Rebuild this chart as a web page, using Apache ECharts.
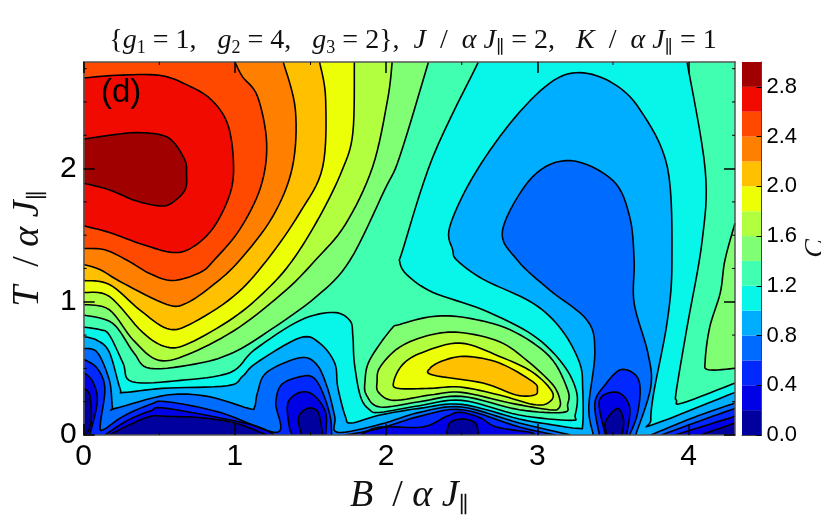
<!DOCTYPE html>
<html>
<head>
<meta charset="utf-8">
<style>html,body{margin:0;padding:0;background:#fff}#chart{width:821px;height:523px}</style>
<script src="https://cdn.jsdelivr.net/npm/echarts@6/dist/echarts.min.js"></script>
</head>
<body>
<div id="chart"></div>
<script>
const B_MAX = 4.307, T_MAX = 2.80;
const bandEdges = [0,0.2,0.4,0.6,0.8,1.0,1.2,1.4,1.6,1.8,2.0,2.2,2.4,2.6,2.8,3.0];
const bandColors = ['#00009f','#0000e6','#0028ff','#006cff','#00aeff','#08f6ea','#40ffb0','#80ff74','#b2ff40','#ecff06','#ffc000','#ff8000','#ff4800','#f00a00','#a00000'];
const xTicks = [0,1,2,3,4];
const yTicks = [0,1,2];
const cTicks = [0,0.4,0.8,1.2,1.6,2.0,2.4,2.8];
const xMinor = [0.5,1.5,2.5,3.5];
const yMinor = [0.25,0.5,0.75,1.25,1.5,1.75,2.25,2.5,2.75];

// contour lines: [B, T]
const c28 = [[0,2.22],[.11,2.24],[.34,2.27],[.52,2.25],[.60,2.19],[.67,2.06],[.68,1.97],[.67,1.84],[.58,1.74],[.50,1.72],[.34,1.76],[.17,1.84],[0,1.89]];
const c26 = [[0,2.68],[.22,2.70],[.50,2.70],[.68,2.63],[.84,2.52],[.95,2.34],[.99,2.06],[.97,1.82],[.86,1.56],[.72,1.41],[.59,1.37],[.39,1.43],[.17,1.52],[0,1.57]];
const c24 = [[0,1.40],[.14,1.39],[.29,1.31],[.44,1.21],[.59,1.16],[.77,1.22],[.86,1.31],[1.03,1.54],[1.17,1.86],[1.21,2.19],[1.15,2.54],[1.05,2.69],[1.0,2.80]];
const c22 = [[0,1.28],[.11,1.24],[.26,1.14],[.55,.98],[.68,.99],[.86,1.13],[1.03,1.31],[1.25,1.64],[1.38,2.01],[1.40,2.44],[1.32,2.80]];
const c20 = [[0,1.16],[.17,1.13],[.37,.94],[.55,.80],[.70,.83],[.99,1.04],[1.21,1.31],[1.43,1.67],[1.58,2.01],[1.60,2.52],[1.56,2.80]];
const c18 = [[0,1.07],[.17,1.04],[.39,.77],[.55,.66],[.70,.69],[.99,.88],[1.21,1.09],[1.38,1.31],[1.56,1.64],[1.71,1.99],[1.78,2.27],[1.79,2.80]];
const c16 = [[0,.98],[.17,.94],[.33,.71],[.50,.56],[.72,.62],[1.03,.81],[1.34,1.09],[1.53,1.31],[1.73,1.58],[1.91,2.01],[2.01,2.52],[2.04,2.80]];
const c14 = [[0,.90],[.19,.84],[.33,.62],[.44,.50],[.77,.54],[.99,.62],[1.21,.77],[1.54,1.04],[1.76,1.31],[1.99,1.84],[2.09,2.09],[2.28,2.80]];
const c12 = [[0,.81],[.11,.79],[.17,.75],[.26,.54],[.32,.40],[.64,.41],[.97,.47],[1.13,.64],[1.43,.86],[1.65,.92],[1.76,.86],[1.78,.74],[1.79,.54],[1.83,.29],[1.89,.19],[1.96,.17],[2.22,.22],[2.50,.26],[2.88,.15],[3.22,.11],[3.25,.15],[3.26,.32],[3.17,.53],[2.97,.75],[2.64,.94],[2.31,1.07],[2.14,1.20],[2.09,1.30],[2.11,1.39],[2.31,2.09],[2.61,2.80]];
const c10 = [[0,.74],[.09,.71],[.17,.62],[.24,.35],[.27,.32],[.52,.35],[.95,.37],[1.05,.44],[1.14,.54],[1.43,.73],[1.56,.69],[1.66,.54],[1.68,.36],[1.73,.14],[1.77,.09],[1.96,.15],[2.22,.20],[2.50,.23],[2.88,.12],[3.08,.08],[3.27,.05],[3.30,.08],[3.30,.34],[3.28,.54],[3.16,.79],[2.97,.99],[2.64,1.17],[2.47,1.31],[2.44,1.39],[2.42,1.56],[2.57,1.93],[2.82,2.34],[3.08,2.64],[3.28,2.72],[3.50,2.64],[3.68,2.44],[3.86,2.01],[3.89,1.31],[3.86,.86],[3.77,.32],[3.75,.11],[3.77,.08],[4.307,.32]];
const c12Right = [[3.99,2.80],[4.11,1.99],[4.09,1.46],[3.99,.81],[3.92,.34],[3.92,.26],[3.96,.24],[4.307,.39]];
const c14Right = [[4.307,1.59],[4.24,1.31],[4.21,1.07],[4.14,.81],[4.11,.56],[4.13,.49],[4.307,.50]];
const c14Bump = [[1.86,.40],[1.89,.56],[2.03,.79],[2.09,.83],[2.31,.89],[2.53,.88],[2.82,.79],[3.08,.59],[3.20,.34],[3.20,.23],[3.17,.17],[2.88,.19],[2.50,.29],[2.22,.25],[1.96,.21],[1.87,.30]];
const c16Bump = [[1.94,.40],[1.96,.51],[2.09,.66],[2.29,.75],[2.49,.77],[2.75,.70],[2.93,.56],[3.10,.38],[3.15,.26],[3.14,.20],[3.08,.19],[2.82,.24],[2.50,.32],[2.29,.30],[2.05,.26],[1.95,.32]];
const c18Bump = [[2.05,.40],[2.11,.53],[2.24,.62],[2.49,.69],[2.75,.59],[2.97,.47],[3.10,.32],[3.07,.24],[2.97,.23],[2.75,.30],[2.49,.36],[2.29,.35],[2.08,.35]];
const c20Bump = [[2.29,.50],[2.38,.56],[2.53,.59],[2.75,.54],[2.97,.40],[3.00,.34],[2.98,.30],[2.86,.30],[2.64,.39],[2.31,.45]];
const c08 = [[0,.65],[.09,.62],[.17,.41],[.19,.21],[.21,.20],[.55,.30],[.82,.29],[1.09,.20],[1.13,.21],[1.15,.32],[1.21,.47],[1.43,.58],[1.54,.53],[1.61,.36],[1.66,.14],[1.68,.02],[1.96,.08],[2.22,.17],[2.50,.21],[2.88,.09],[3.22,0]];
const c08Blob = [[3.37,0],[3.34,.21],[3.38,.62],[3.33,.86],[3.08,1.09],[2.87,1.31],[2.77,1.54],[2.97,1.94],[3.22,2.06],[3.50,1.91],[3.61,1.64],[3.64,1.31],[3.64,.99],[3.73,.62],[3.75,.36],[3.65,0]];
const c08Right = [[3.75,0],[4.03,.13],[4.307,.24]];
const c06 = [[0,.57],[.09,.50],[.14,.35],[.11,.08],[.13,.04],[.26,.14],[.44,.23],[.55,.25],[.90,.17],[1.28,.02],[1.27,.24],[1.31,.38],[1.44,.44],[1.52,.43],[1.58,.32],[1.63,.14],[1.64,0]];
const c06Bump = [[1.73,0],[1.96,.05],[2.22,.14],[2.50,.19],[2.88,.06],[3.12,0]];
const c06Blob = [[3.41,0],[3.38,.24],[3.45,.38],[3.55,.49],[3.65,.45],[3.68,.34],[3.66,.15],[3.61,0]];
const c06Right = [[3.82,0],[4.06,.10],[4.307,.20]];
const c04 = [[0,.47],[.06,.40],[.09,.25],[.04,0]];
const c04Mid = [[.14,0],[.29,.11],[.44,.18],[.55,.20],[1.10,.08],[1.26,0]];
const c04Blob1 = [[1.38,0],[1.36,.06],[1.35,.24],[1.43,.32],[1.52,.30],[1.60,.17],[1.60,0]];
const c04Bump = [[1.83,0],[1.96,.06],[2.24,.06],[2.40,.14],[2.49,.17],[2.62,.13],[2.73,.06],[2.95,.02],[2.98,0]];
const c04Blob2 = [[3.45,0],[3.41,.26],[3.53,.32],[3.61,.21],[3.59,0]];
const c04Right = [[3.91,0],[4.307,.14]];
const c02 = [[0,.35],[.04,.30],[.05,.11],[.02,0]];
const c02Mid = [[.17,0],[.31,.08],[.44,.14],[.55,.14],[.77,.13],[1.0,.09],[1.21,0]];
const c02Blob1 = [[1.44,0],[1.42,.13],[1.48,.20],[1.55,.17],[1.58,0]];
const c02Bump = [[2.40,0],[2.42,.09],[2.50,.12],[2.59,.09],[2.61,0]];
const c02Blob2 = [[3.46,0],[3.45,.10],[3.53,.20],[3.57,.11],[3.56,0]];
const c02Right = [[4.08,0],[4.307,.09]];

const TL = [[0,T_MAX]], TRL = [[B_MAX,T_MAX],[0,T_MAX]], TR = [[B_MAX,T_MAX]], BL = [[0,0]], BR = [[B_MAX,0]];
// [line, band index, frame corners that close the fill, closed loop?]
const regions = [
  [c10,5,TRL],[c12,6,TL],[c12Right,6,TR],[c14,7,TL],[c14Right,7,[]],[c14Bump,7,[],1],
  [c16,8,TL],[c16Bump,8,[],1],[c18,9,TL],[c18Bump,9,[],1],[c20,10,TL],[c20Bump,10,[],1],
  [c22,11,TL],[c24,12,TL],[c26,13,[]],[c28,14,[]],
  [c08,3,BL],[c08Blob,3,[]],[c08Right,3,BR],
  [c06,2,BL],[c06Bump,2,[]],[c06Blob,2,[]],[c06Right,2,BR],
  [c04,1,BL],[c04Mid,1,[]],[c04Blob1,1,[]],[c04Bump,1,[]],[c04Blob2,1,[]],[c04Right,1,BR],
  [c02,0,BL],[c02Mid,0,[]],[c02Blob1,0,[]],[c02Bump,0,[]],[c02Blob2,0,[]],[c02Right,0,BR]
];

function spline(px, closed){
  const out=[], n=px.length, steps=8;
  const at=i=> closed ? px[(i+n)%n] : px[Math.max(0,Math.min(n-1,i))];
  const last = closed ? n : n-1;
  for(let i=0;i<last;i++){
    const p0=at(i-1),p1=at(i),p2=at(i+1),p3=at(i+2);
    for(let k=0;k<steps;k++){
      const t=k/steps,t2=t*t,t3=t2*t;
      out.push([
        0.5*(2*p1[0]+(p2[0]-p0[0])*t+(2*p0[0]-5*p1[0]+4*p2[0]-p3[0])*t2+(3*p1[0]-p0[0]-3*p2[0]+p3[0])*t3),
        0.5*(2*p1[1]+(p2[1]-p0[1])*t+(2*p0[1]-5*p1[1]+4*p2[1]-p3[1])*t2+(3*p1[1]-p0[1]-3*p2[1]+p3[1])*t3)
      ]);
    }
  }
  if(!closed) out.push(px[n-1]);
  return out;
}
function linePx(r,api){ return spline(r[0].map(p=>api.coord(p)), !!r[3]); }

const F='"Liberation Sans",Arial,sans-serif', S='"Liberation Serif","DejaVu Serif",serif';
const nameRich={
  n:{fontFamily:S,fontSize:38,color:'#111',lineHeight:42},
  i:{fontFamily:S,fontSize:38,fontStyle:'italic',color:'#111',lineHeight:42},
  s:{fontFamily:S,fontSize:22,color:'#111',lineHeight:32,verticalAlign:'bottom'}};
const option = {
  animation:false,
  backgroundColor:'#fff',
  title:{
    text:'{n|{}{i|g}{s|1}{n| = 1,   }{i|g}{s|2}{n| = 4,   }{i|g}{s|3}{n| = 2}}{n|,  }{i|J}{n|  /  }{i|α J}{s|∥}{n| = 2,   }{i|K}{n|  /  }{i|α J}{s|∥}{n| = 1}',
    left:408, top:20, textAlign:'center',
    textStyle:{fontFamily:S,fontSize:28,color:'#111',fontWeight:'normal',rich:{
      n:{fontFamily:S,fontSize:28,color:'#111',lineHeight:32},
      i:{fontFamily:S,fontSize:28,fontStyle:'italic',color:'#111',lineHeight:32},
      s:{fontFamily:S,fontSize:18,color:'#111',lineHeight:26,verticalAlign:'bottom'}
    }}
  },
  grid:[
    {left:83.7,right:821-735,top:62,bottom:523-435,outerBoundsMode:'none'},
    {left:742,right:821-761.5,top:62,bottom:523-435,outerBoundsMode:'none'}
  ],
  xAxis:[
    {gridIndex:0,type:'value',min:0,max:B_MAX,position:'bottom',z:10,
     name:'{i|B}{n|  / }{i|α J}{s|∥}',nameLocation:'middle',nameGap:34,
     nameTextStyle:{rich:nameRich},
     splitLine:{show:false},
     axisLine:{onZero:false,lineStyle:{color:'#555',width:1.5}},
     axisTick:{inside:true,length:11,customValues:xTicks,lineStyle:{color:'#000',width:1.5}},
     axisLabel:{customValues:xTicks,fontFamily:F,fontSize:30,color:'#000',margin:7,formatter:v=>String(v)}},
    {gridIndex:0,type:'value',min:0,max:B_MAX,position:'top',z:10,
     splitLine:{show:false},
     axisLine:{onZero:false,lineStyle:{color:'#555',width:1.5}},
     axisTick:{inside:true,length:11,customValues:xTicks,lineStyle:{color:'#000',width:1.5}},
     axisLabel:{show:false}},
    {gridIndex:1,type:'value',min:0,max:1,position:'bottom',z:10,
     splitLine:{show:false},
     axisLine:{onZero:false,lineStyle:{color:'#444',width:1}},axisTick:{show:false},axisLabel:{show:false}}
  ],
  yAxis:[
    {gridIndex:0,type:'value',min:0,max:T_MAX,position:'left',z:10,
     name:'{i|T}{n|  / }{i|α J}{s|∥}',nameLocation:'middle',nameGap:25,
     nameTextStyle:{rich:nameRich},
     splitLine:{show:false},
     axisLine:{onZero:false,lineStyle:{color:'#555',width:1.5}},
     axisTick:{inside:true,length:11,customValues:yTicks,lineStyle:{color:'#000',width:1.5}},
     axisLabel:{customValues:yTicks,fontFamily:F,fontSize:30,color:'#000',margin:7,formatter:v=>String(v)}},
    {gridIndex:0,type:'value',min:0,max:T_MAX,position:'right',z:10,
     splitLine:{show:false},
     axisLine:{onZero:false,lineStyle:{color:'#555',width:1.5}},
     axisTick:{inside:true,length:11,customValues:yTicks,lineStyle:{color:'#000',width:1.5}},
     axisLabel:{show:false}},
    {gridIndex:1,type:'value',min:0,max:3,position:'right',z:10,
     name:'C',nameLocation:'middle',nameGap:40,nameRotate:90,
     nameTextStyle:{fontFamily:S,fontStyle:'italic',fontSize:28,color:'#111'},
     splitLine:{show:false},
     axisLine:{onZero:false,lineStyle:{color:'#444',width:1}},
     axisTick:{inside:true,length:5,customValues:cTicks,lineStyle:{color:'#000',width:1}},
     axisLabel:{customValues:cTicks,fontFamily:F,fontSize:22,color:'#000',margin:5,formatter:v=>v.toFixed(1)}}
  ],
  series:[
    {type:'custom',name:'base',coordinateSystem:'cartesian2d',xAxisIndex:0,yAxisIndex:0,z:1,clip:true,silent:true,
     data:[[0,0]],
     renderItem:(p,api)=>({type:'polygon',shape:{points:[[0,0],[B_MAX,0],[B_MAX,T_MAX],[0,T_MAX]].map(q=>api.coord(q))},style:{fill:bandColors[4]}})},
    {type:'custom',name:'fills',coordinateSystem:'cartesian2d',xAxisIndex:0,yAxisIndex:0,z:2,clip:true,silent:true,
     data:regions.map((r,i)=>[i,0]),
     renderItem:(p,api)=>{const r=regions[p.dataIndex];
       return {type:'polygon',shape:{points:linePx(r,api).concat(r[2].map(q=>api.coord(q)))},style:{fill:bandColors[r[1]],stroke:null}};}},
    {type:'custom',name:'lines',coordinateSystem:'cartesian2d',xAxisIndex:0,yAxisIndex:0,z:3,clip:true,silent:true,
     data:regions.map((r,i)=>[i,0]),
     renderItem:(p,api)=>{const r=regions[p.dataIndex];
       const pts=linePx(r,api); if(r[3]) pts.push(pts[0]);
       return {type:'polyline',shape:{points:pts},style:{fill:null,stroke:'#000',lineWidth:1.6}};}},
    {type:'custom',name:'minorX',coordinateSystem:'cartesian2d',xAxisIndex:0,yAxisIndex:0,z:11,silent:true,
     data:xMinor.map(v=>[v,0]),
     renderItem:(p,api)=>{const v=xMinor[p.dataIndex],a=api.coord([v,0]),b=api.coord([v,T_MAX]);
       return {type:'group',children:[
        {type:'line',shape:{x1:a[0],y1:a[1],x2:a[0],y2:a[1]-3},style:{stroke:'#000',lineWidth:1}},
        {type:'line',shape:{x1:b[0],y1:b[1],x2:b[0],y2:b[1]+3},style:{stroke:'#000',lineWidth:1}}]};}},
    {type:'custom',name:'minorY',coordinateSystem:'cartesian2d',xAxisIndex:0,yAxisIndex:0,z:11,silent:true,
     data:yMinor.map(v=>[0,v]),
     renderItem:(p,api)=>{const v=yMinor[p.dataIndex],a=api.coord([0,v]),b=api.coord([B_MAX,v]);
       return {type:'group',children:[
        {type:'line',shape:{x1:a[0],y1:a[1],x2:a[0]+3,y2:a[1]},style:{stroke:'#000',lineWidth:1}},
        {type:'line',shape:{x1:b[0],y1:b[1],x2:b[0]-3,y2:b[1]},style:{stroke:'#000',lineWidth:1}}]};}},
    {type:'custom',name:'colorbar',coordinateSystem:'cartesian2d',xAxisIndex:2,yAxisIndex:2,z:2,silent:true,
     data:bandColors.map((c,i)=>[0,bandEdges[i]]),
     renderItem:(p,api)=>{const i=p.dataIndex,a=api.coord([0,bandEdges[i]]),b=api.coord([1,bandEdges[i+1]]);
       return {type:'rect',shape:{x:a[0],y:b[1],width:b[0]-a[0],height:a[1]-b[1]},style:{fill:bandColors[i]}};}}
  ],
  graphic:[{type:'text',z:20,x:101,y:76,style:{text:'(d)',fontFamily:F,fontSize:33,fill:'#000'}}]
};
const chart = echarts.init(document.getElementById('chart'),null,{renderer:'canvas'});
chart.setOption(option);
</script>
</body>
</html>
